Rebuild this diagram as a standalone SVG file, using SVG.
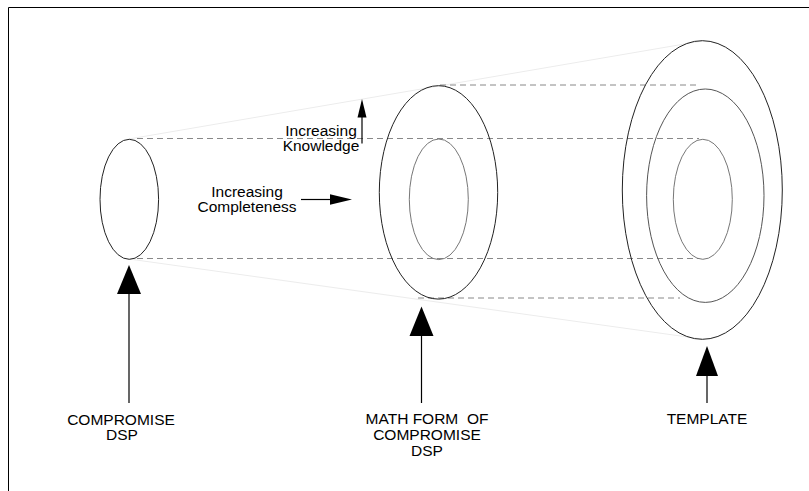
<svg xmlns="http://www.w3.org/2000/svg" width="809" height="491" viewBox="0 0 809 491">
  <style>
    .frame { stroke: #000; stroke-width: 1; fill: none; }
    .ring { fill: none; stroke-width: 1; }
    .dark { stroke: #222; }
    .mid { stroke: #555; }
    .light { stroke: #777; }
    .dash { stroke: #888; stroke-width: 1; stroke-dasharray: 6 4; fill: none; }
    .hull { stroke: #ececec; stroke-width: 1; fill: none; }
    .shaft { stroke: #000; stroke-width: 1.2; fill: none; }
    .head { fill: #000; stroke: none; }
    text { font-family: "Liberation Sans", Arial, sans-serif; font-size: 15.5px; fill: #000; text-anchor: middle; }
  </style>

  <!-- page frame -->
  <path class="frame" d="M8.5,491 V7.5 H809"/>

  <!-- connectors: projection guides and pointer arrows -->
  <g id="connectors">
    <!-- faint cone outline -->
    <line class="hull" x1="129" y1="139" x2="702" y2="41"/>
    <line class="hull" x1="129" y1="259" x2="702" y2="339"/>
    <!-- dashed projection lines -->
    <line class="dash" x1="440" y1="85" x2="699" y2="85"/>
    <line class="dash" x1="137" y1="138.5" x2="699" y2="138.5"/>
    <line class="dash" x1="137" y1="258.5" x2="699" y2="258.5"/>
    <line class="dash" x1="418" y1="298" x2="680" y2="298"/>

    <!-- pointer arrows from labels -->
    <line class="shaft" x1="129" y1="292" x2="129" y2="403"/>
    <polygon class="head" points="129,265 117,294 141,294"/>
    <line class="shaft" x1="421.5" y1="334" x2="421.5" y2="403"/>
    <polygon class="head" points="421.5,306.5 409.5,336 433.5,336"/>
    <line class="shaft" x1="707" y1="374" x2="707" y2="403"/>
    <polygon class="head" points="707,346 696,376 718,376"/>

    <!-- Increasing Knowledge arrow -->
    <line class="shaft" x1="362" y1="116" x2="362" y2="143.5"/>
    <polygon class="head" points="362,99 357.5,117.5 366.5,117.5"/>
    <!-- Increasing Completeness arrow -->
    <line class="shaft" x1="301" y1="199.5" x2="332" y2="199.5"/>
    <polygon class="head" points="352,199.5 330,194.3 330,204.7"/>
  </g>

  <g id="compromise-dsp">
    <ellipse class="ring dark" cx="129.3" cy="199.3" rx="29.3" ry="60"/>
    <text x="121" y="424.5">COMPROMISE</text>
    <text x="122" y="439.5">DSP</text>
  </g>

  <g id="math-form">
    <ellipse class="ring dark" cx="438.5" cy="192.4" rx="59.2" ry="106.7"/>
    <ellipse class="ring light" cx="438.8" cy="199.3" rx="29.5" ry="60.3"/>
    <text x="427" y="423.5" style="white-space:pre">MATH FORM  OF</text>
    <text x="427" y="439.5">COMPROMISE</text>
    <text x="427" y="455.5">DSP</text>
  </g>

  <g id="template">
    <ellipse class="ring dark" cx="702.3" cy="190" rx="80" ry="149.3"/>
    <ellipse class="ring mid" cx="705.3" cy="195.7" rx="58.7" ry="106.7"/>
    <ellipse class="ring light" cx="702.8" cy="199.3" rx="29.5" ry="60"/>
    <text x="707" y="423.5">TEMPLATE</text>
  </g>

  <g id="knowledge-label">
    <text x="321" y="136">Increasing</text>
    <text x="321" y="151">Knowledge</text>
  </g>

  <g id="completeness-label">
    <text x="247" y="196.5">Increasing</text>
    <text x="247" y="211.5">Completeness</text>
  </g>
</svg>
